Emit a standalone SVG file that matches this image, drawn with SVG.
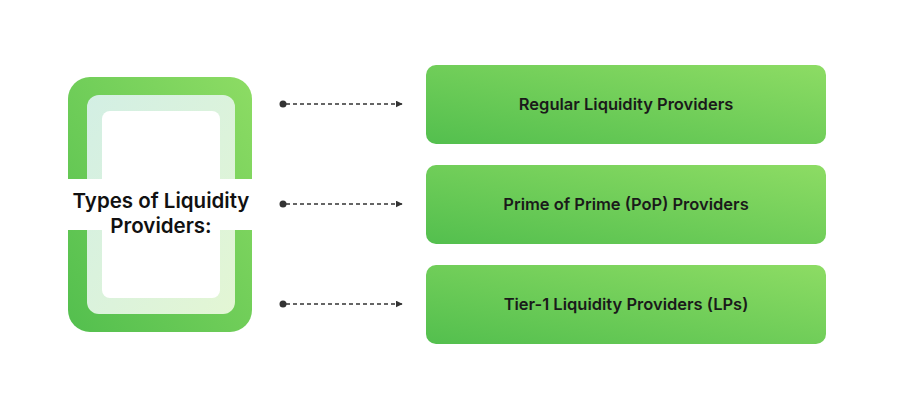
<svg xmlns="http://www.w3.org/2000/svg" width="897" height="410" viewBox="0 0 897 410">
<defs>
<linearGradient id="g" x1="0" y1="1" x2="1" y2="0">
<stop offset="0" stop-color="#53bf4e"/>
<stop offset="1" stop-color="#8ddc64"/>
</linearGradient>
<linearGradient id="gl" x1="0" y1="0" x2="1" y2="1">
<stop offset="0" stop-color="#d3efe4"/>
<stop offset="1" stop-color="#e3f6d4"/>
</linearGradient>
<marker id="ah" viewBox="0 0 10 10" refX="9" refY="5" markerWidth="7" markerHeight="7" markerUnits="userSpaceOnUse" orient="auto">
<path d="M0,0 L10,5 L0,10 z" fill="#333"/>
</marker>
<style>
.box{fill:url(#g)}
.lbl{font-family:Inter,"Liberation Sans",sans-serif;font-weight:600;font-size:16.5px;fill:#1a1a1a;text-anchor:middle}
.title{font-family:Inter,"Liberation Sans",sans-serif;font-weight:600;font-size:20.5px;fill:#111;text-anchor:middle}
.conn{stroke:#333;stroke-width:1.3;stroke-dasharray:4 3;fill:none}
</style>
</defs>
<rect width="897" height="410" fill="#fff"/>
<g id="title-node">
<rect x="68" y="77" width="184" height="255" rx="22" fill="url(#g)"/>
<rect x="87" y="95" width="148" height="219" rx="12" fill="url(#gl)"/>
<rect x="102" y="111" width="118" height="187" rx="8" fill="#fff"/>
<rect x="60" y="179" width="200" height="51" fill="#fff"/>
<text class="title" x="161" y="208">Types of Liquidity</text>
<text class="title" x="161" y="233">Providers:</text>
</g>
<g id="connectors">
<circle cx="283" cy="104" r="3.5" fill="#333"/>
<line class="conn" x1="286" y1="104" x2="402" y2="104" marker-end="url(#ah)"/>
<circle cx="283" cy="204" r="3.5" fill="#333"/>
<line class="conn" x1="286" y1="204" x2="402" y2="204" marker-end="url(#ah)"/>
<circle cx="283" cy="304" r="3.5" fill="#333"/>
<line class="conn" x1="286" y1="304" x2="402" y2="304" marker-end="url(#ah)"/>
</g>
<g id="regular">
<rect class="box" x="426" y="65" width="400" height="79" rx="10"/>
<text class="lbl" x="626" y="110">Regular Liquidity Providers</text>
</g>
<g id="pop">
<rect class="box" x="426" y="165" width="400" height="79" rx="10"/>
<text class="lbl" x="626" y="210">Prime of Prime (PoP) Providers</text>
</g>
<g id="tier1">
<rect class="box" x="426" y="265" width="400" height="79" rx="10"/>
<text class="lbl" x="626" y="310">Tier-1 Liquidity Providers (LPs)</text>
</g>
</svg>
